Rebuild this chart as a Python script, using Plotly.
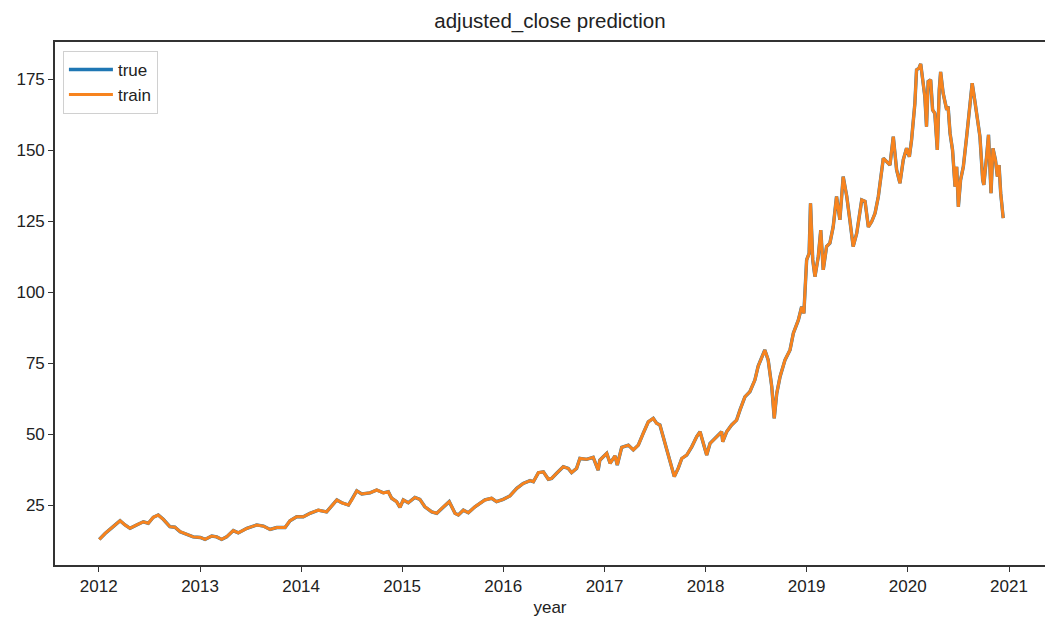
import plotly.graph_objects as go

# Adjusted close readings (date, price)
dates = [
    "2012-01-03", "2012-01-24", "2012-02-22", "2012-03-18", "2012-04-05", "2012-04-23",
    "2012-05-17", "2012-06-10", "2012-06-28", "2012-07-16", "2012-08-03", "2012-08-21",
    "2012-09-14", "2012-10-02", "2012-10-21", "2012-11-13", "2012-12-07", "2013-01-02",
    "2013-01-19", "2013-02-12", "2013-03-02", "2013-03-20", "2013-04-07", "2013-05-01",
    "2013-05-19", "2013-06-19", "2013-07-25", "2013-08-18", "2013-09-11", "2013-10-05",
    "2013-11-04", "2013-11-22", "2013-12-16", "2014-01-09", "2014-02-02", "2014-03-04",
    "2014-04-03", "2014-05-10", "2014-05-28", "2014-06-21", "2014-07-03", "2014-07-21",
    "2014-08-08", "2014-09-07", "2014-10-01", "2014-10-25", "2014-11-12", "2014-11-24",
    "2014-12-12", "2014-12-24", "2015-01-05", "2015-01-23", "2015-02-16", "2015-03-06",
    "2015-03-24", "2015-04-18", "2015-05-06", "2015-05-30", "2015-06-20", "2015-07-11",
    "2015-07-23", "2015-08-10", "2015-08-28", "2015-09-21", "2015-10-15", "2015-10-27",
    "2015-11-20", "2015-12-08", "2016-01-01", "2016-01-25", "2016-02-19", "2016-03-13",
    "2016-04-07", "2016-04-19", "2016-05-07", "2016-05-25", "2016-06-12", "2016-06-24",
    "2016-07-12", "2016-08-05", "2016-08-23", "2016-09-04", "2016-09-22", "2016-10-04",
    "2016-10-28", "2016-11-21", "2016-12-09", "2016-12-15", "2017-01-09", "2017-01-21",
    "2017-02-08", "2017-02-16", "2017-03-04", "2017-03-28", "2017-04-15", "2017-05-03",
    "2017-05-21", "2017-06-08", "2017-06-26", "2017-07-08", "2017-07-20", "2017-08-01",
    "2017-08-13", "2017-08-31", "2017-09-10", "2017-09-24", "2017-10-07", "2017-10-25",
    "2017-11-12", "2017-11-30", "2017-12-12", "2017-12-24", "2018-01-05", "2018-01-17",
    "2018-02-10", "2018-02-28", "2018-03-04", "2018-03-18", "2018-04-05", "2018-04-23",
    "2018-05-05", "2018-05-23", "2018-06-10", "2018-06-28", "2018-07-10", "2018-08-03",
    "2018-08-15", "2018-08-28", "2018-09-06", "2018-09-15", "2018-09-27", "2018-10-15",
    "2018-11-02", "2018-11-14", "2018-12-02", "2018-12-14", "2018-12-22", "2018-12-26",
    "2019-01-01", "2019-01-10", "2019-01-15", "2019-01-23", "2019-01-31", "2019-02-12",
    "2019-02-21", "2019-03-02", "2019-03-14", "2019-03-26", "2019-04-07", "2019-04-19",
    "2019-05-01", "2019-05-13", "2019-05-26", "2019-06-06", "2019-06-18", "2019-07-01",
    "2019-07-19", "2019-07-31", "2019-08-12", "2019-08-24", "2019-09-05", "2019-09-17",
    "2019-09-29", "2019-10-05", "2019-10-17", "2019-10-29", "2019-11-10", "2019-11-22",
    "2019-12-04", "2019-12-16", "2019-12-28", "2020-01-07", "2020-01-15", "2020-01-27",
    "2020-02-02", "2020-02-11", "2020-02-17", "2020-02-24", "2020-03-03", "2020-03-09",
    "2020-03-15", "2020-03-24", "2020-03-31", "2020-04-08", "2020-04-17", "2020-04-24",
    "2020-04-29", "2020-05-08", "2020-05-21", "2020-05-26", "2020-06-02", "2020-06-11",
    "2020-06-20", "2020-06-26", "2020-07-02", "2020-07-10", "2020-07-20", "2020-08-01",
    "2020-08-13", "2020-08-21", "2020-08-31", "2020-09-08", "2020-09-18", "2020-09-28",
    "2020-10-02", "2020-10-12", "2020-10-19", "2020-10-28", "2020-11-04", "2020-11-13",
    "2020-11-20", "2020-11-26", "2020-12-02", "2020-12-11",
]

adjusted_close = [
    13.0, 15.1, 17.5, 19.6, 18.1, 16.9,
    18.1, 19.2, 18.7, 20.8, 21.6, 20.1,
    17.5, 17.3, 15.7, 14.9, 13.9, 13.7,
    13.0, 14.2, 13.9, 13.0, 13.9, 16.1,
    15.3, 16.9, 18.1, 17.7, 16.5, 17.2,
    17.2, 19.6, 21.0, 21.0, 22.2, 23.3,
    22.7, 26.9, 25.9, 25.1, 26.9, 30.1,
    29.0, 29.4, 30.4, 29.4, 29.8, 27.5,
    26.3, 24.3, 26.9, 25.9, 27.8, 27.1,
    24.5, 22.7, 22.2, 24.5, 26.3, 22.2,
    21.6, 23.3, 22.4, 24.5, 26.3, 26.9,
    27.5, 26.3, 27.1, 28.3, 31.0, 32.7,
    33.7, 33.3, 36.5, 36.8, 34.2, 34.5,
    36.3, 38.6, 38.0, 36.5, 38.0, 41.5,
    41.2, 41.9, 37.4, 40.9, 43.3, 39.8,
    42.4, 39.2, 45.4, 46.2, 44.5, 46.2,
    50.4, 54.4, 55.6, 53.9, 53.3, 49.2,
    44.5, 39.2, 35.1, 38.0, 41.5, 42.7,
    45.6, 49.2, 50.9, 46.8, 42.7, 46.8,
    49.2, 50.9, 47.4, 50.9, 53.3, 55.0,
    58.5, 63.2, 65.0, 69.1, 74.0, 79.7,
    76.2, 66.8, 55.6, 64.4, 70.3, 76.2,
    79.7, 85.6, 90.2, 94.9, 92.6, 102.0,
    111.4, 113.7, 131.3, 111.4, 105.5, 112.5,
    121.9, 107.9, 116.1, 117.3, 123.1, 133.7,
    125.5, 140.7, 133.7, 125.5, 116.1, 120.8,
    132.5, 132.0, 123.0, 124.9, 127.8, 133.7,
    142.5, 147.2, 146.0, 144.8, 154.8, 143.1,
    138.4, 146.6, 150.7, 147.7, 153.6, 166.5,
    178.3, 178.9, 180.4, 174.8, 168.9, 158.3,
    174.2, 174.8, 164.2, 163.0, 150.1, 171.2,
    177.6, 170.1, 164.2, 165.4, 156.0, 150.1,
    137.2, 144.2, 130.1, 139.5, 144.2, 154.8,
    165.4, 173.6, 167.1, 161.8, 154.8, 139.5,
    137.8, 147.7, 155.4, 134.9, 150.7, 146.6,
    140.7, 144.8, 134.9, 126.1,
]

year_ticks = ["2012-01-01", "2013-01-01", "2014-01-01", "2015-01-01", "2016-01-01",
              "2017-01-01", "2018-01-01", "2019-01-01", "2020-01-01", "2021-01-01"]
year_labels = ["2012", "2013", "2014", "2015", "2016", "2017", "2018", "2019", "2020", "2021"]
price_ticks = [25, 50, 75, 100, 125, 150, 175]

FONT = "Liberation Sans, Arial, Helvetica, sans-serif"
INK = "#333333"
TEXT = "#222222"

fig = go.Figure()
fig.add_trace(go.Scatter(
    x=dates, y=adjusted_close, mode="lines", name="true",
    line=dict(color="#1f77b4", width=3.4),
))
fig.add_trace(go.Scatter(
    x=dates, y=adjusted_close, mode="lines", name="train",
    line=dict(color="#f7831e", width=3.0),
))

fig.update_layout(
    width=1045, height=621,
    margin=dict(l=55, r=0, t=42, b=56),
    paper_bgcolor="white", plot_bgcolor="white",
    font=dict(family=FONT, color=TEXT, size=17),
    title=dict(text="adjusted_close prediction", x=0.5, xref="paper", xanchor="center",
               y=1 - 21 / 621, yanchor="middle", font=dict(size=20.5, color=TEXT)),
    showlegend=True,
    legend=dict(x=0.008, y=0.983, xanchor="left", yanchor="top",
                bgcolor="white", bordercolor="#d0d0d0", borderwidth=1,
                itemwidth=44, tracegroupgap=0,
                font=dict(size=17, color=TEXT)),
)

fig.update_xaxes(
    type="date", range=["2011-07-27", "2021-05-11"],
    tickvals=year_ticks, ticktext=year_labels,
    showgrid=False, zeroline=False,
    showline=True, linecolor=INK, linewidth=1.6, mirror=True,
    ticks="outside", ticklen=5, tickwidth=1.2, tickcolor=INK,
    tickfont=dict(size=17, color=TEXT),
    title=dict(text="year", font=dict(size=17, color=TEXT), standoff=6),
)
fig.update_yaxes(
    range=[4.0, 188.1],
    tickvals=price_ticks,
    showgrid=False, zeroline=False,
    showline=True, linecolor=INK, linewidth=1.6, mirror=False,
    ticks="outside", ticklen=5, tickwidth=1.2, tickcolor=INK,
    tickfont=dict(size=17, color=TEXT),
)

fig.write_html("out.html")
